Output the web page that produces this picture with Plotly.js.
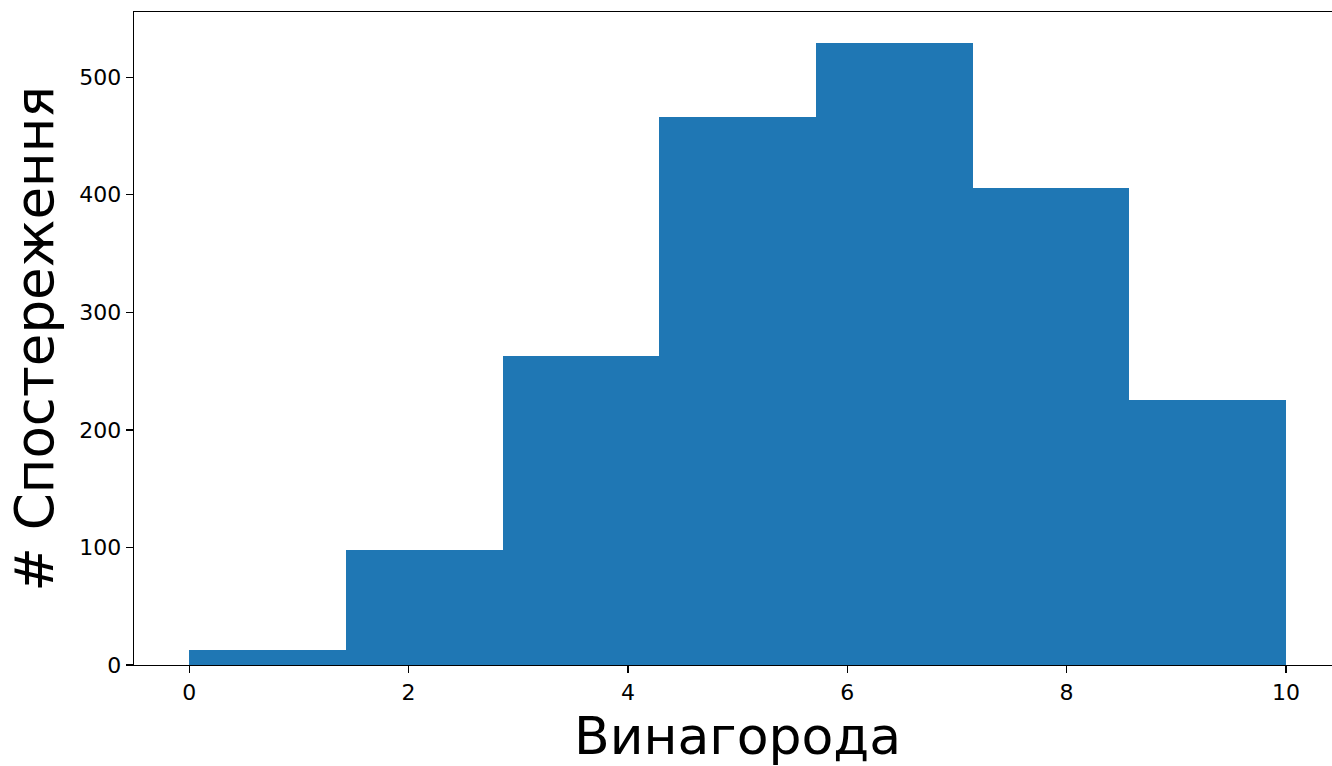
<!DOCTYPE html>
<html>
<head>
<meta charset="utf-8">
<script src="https://cdn.plot.ly/plotly-3.0.1.min.js"></script>
<style>html,body{margin:0;padding:0;background:#fff;}#chart{width:1332px;height:766px;}</style>
</head>
<body>
<div id="chart"></div>
<script>
// Histogram bin edges (7 equal bins from 0 to 10)
const binEdges = [0, 1.428571, 2.857143, 4.285714, 5.714286, 7.142857, 8.571429, 10];
// Counts per bin
const counts = [13, 98, 263, 466, 529, 406, 225];
const xTickVals = [0, 2, 4, 6, 8, 10];
const yTickVals = [0, 100, 200, 300, 400, 500];
const xLabel = "Винагорода";
const yLabel = "# Спостереження";

const centers = [], widths = [];
for (let i = 0; i < counts.length; i++) {
  centers.push((binEdges[i] + binEdges[i + 1]) / 2);
  widths.push(binEdges[i + 1] - binEdges[i]);
}

const FONT = "DejaVu Sans, sans-serif";
const trace = {
  type: "bar",
  x: centers,
  y: counts,
  width: widths,
  marker: {color: "#1f77b4", line: {width: 0}},
  hoverinfo: "x+y"
};

const layout = {
  width: 1332,
  height: 766,
  margin: {l: 134, r: 0, t: 12, b: 101, pad: 0},
  paper_bgcolor: "#fff",
  plot_bgcolor: "#fff",
  showlegend: false,
  bargap: 0,
  font: {family: FONT, color: "#000"},
  xaxis: {
    range: [-0.504, 10.42],
    tickvals: xTickVals,
    ticktext: xTickVals.map(String),
    ticks: "outside", ticklen: 7, tickwidth: 1.3, tickcolor: "#000",
    showline: true, linecolor: "#000", linewidth: 1.3, mirror: true,
    showgrid: false, zeroline: false,
    tickfont: {family: FONT, size: 22, color: "#000"}
  },
  yaxis: {
    range: [0, 555.45],
    tickvals: yTickVals,
    ticktext: yTickVals.map(String),
    ticks: "outside", ticklen: 7, tickwidth: 1.3, tickcolor: "#000",
    showline: true, linecolor: "#000", linewidth: 1.3, mirror: false,
    showgrid: false, zeroline: false,
    tickfont: {family: FONT, size: 22, color: "#000"}
  },
  annotations: [
    {text: xLabel, xref: "x", x: 5, yref: "paper", y: 0, yanchor: "middle", xanchor: "center",
     yshift: -71, showarrow: false, font: {family: FONT, size: 52, color: "#000"}},
    {text: yLabel, xref: "paper", x: 0, yref: "paper", y: 0.5, xanchor: "center", yanchor: "middle",
     xshift: -100, textangle: -90, showarrow: false, font: {family: FONT, size: 53, color: "#000"}}
  ]
};

Plotly.newPlot("chart", [trace], layout, {displayModeBar: false, staticPlot: true});
</script>
</body>
</html>
